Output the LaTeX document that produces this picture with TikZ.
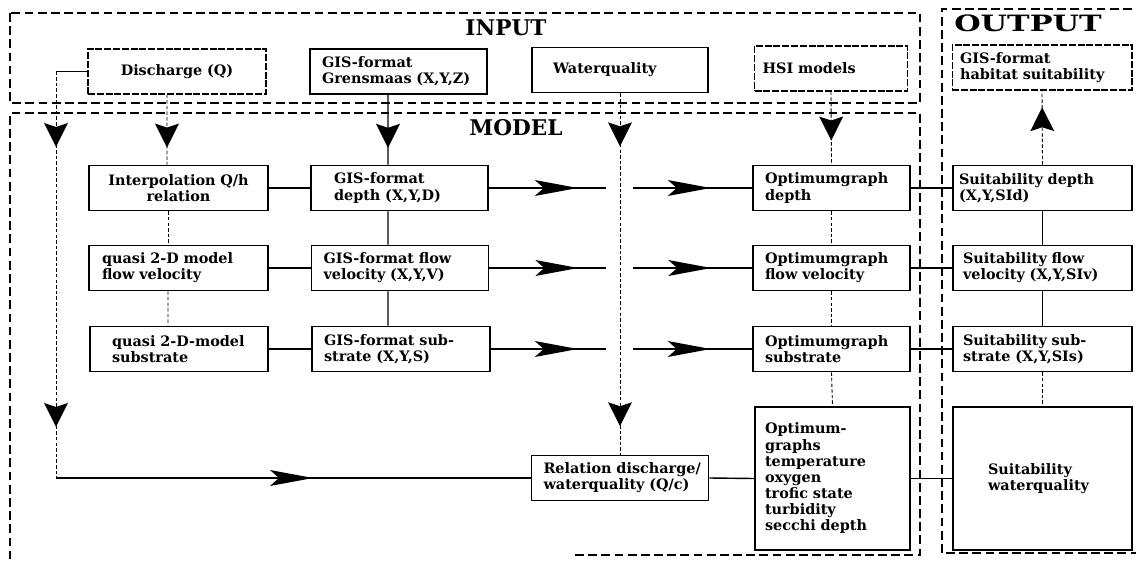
\documentclass[tikz,border=0pt]{standalone}
\usepackage{fontspec}
\setmainfont{DejaVu Serif}
\newfontfamily\titlefont{DejaVu Serif}
\newfontfamily\widetitlefont{DejaVu Serif}[FakeStretch=1.35]
\usetikzlibrary{decorations.markings}

% arrowhead outlines: tip at the origin, pointing along +x
\newcommand\longhead{\fill (0,0) -- (-0.86cm,0.16cm) -- (-0.68cm,0) -- (-0.86cm,-0.16cm) -- cycle;}
\newcommand\shorthead{\fill (0,0) -- (-0.48cm,0.24cm) -- (-0.40cm,0) -- (-0.48cm,-0.24cm) -- cycle;}

\tikzset{
  region/.style={draw, line width=1pt, dash pattern=on 5pt off 2.5pt},
  title/.style={font=\titlefont\fontsize{12.3}{13}\selectfont\bfseries},
  widetitle/.style={font=\widetitlefont\fontsize{12.8}{14}\selectfont\bfseries},
  box/.style={draw, line width=0.9pt, rectangle, minimum height=0.9cm,
    inner ysep=1pt, align=left, font=\fontsize{8.2}{9.2}\selectfont\bfseries,
    execute at begin node={\hyphenpenalty=10000\exhyphenpenalty=10000}},
  lightbox/.style={box, line width=0.6pt, dash pattern=on 4pt off 1pt},
  geom/.style n args={3}{minimum width=#1, text width=#2, inner xsep=#3},
  link/.style={line width=0.8pt},
  faint/.style={line width=0.5pt, dash pattern=on 2pt off 1.2pt},
  hmark/.style={postaction={decorate, solid},
    decoration={markings, mark=at position #1 with {\longhead}}},
  hmarks/.style 2 args={postaction={decorate, solid},
    decoration={markings, mark=at position #1 with {\longhead},
                          mark=at position #2 with {\longhead}}},
  vmark/.style={postaction={decorate, solid},
    decoration={markings, mark=at position #1 with {\shorthead}}},
  vmarks/.style 2 args={postaction={decorate, solid},
    decoration={markings, mark=at position #1 with {\shorthead},
                          mark=at position #2 with {\shorthead}}},
}

\begin{document}
\begin{tikzpicture}[x=0.02cm, y=-0.02cm]
\useasboundingbox (0,0) rectangle (1136,561);

% regions
\draw[region] (10,13) rectangle (920,103);
\draw[region] (575,555) -- (920,555) -- (920,113) -- (10,113) -- (10,570);
\draw[region] (1145,9) -- (942,9) -- (942,553) -- (1145,553);

\node[title] (tin) at (506,28) {INPUT};
\node[title] (tmod) at (516,128) {MODEL};
\node[widetitle] (tout) at (1028,23) {OUTPUT};

% input row
\node[lightbox, geom={3.56cm}{3.36cm}{0.1cm}, align=center] (dis) at (177,71.5) {Discharge~(Q)};
\node[box, geom={3.54cm}{3.06cm}{0.24cm}] (gren) at (398.5,71.5) {GIS-format\\Grensmaas~(X,Y,Z)};
\node[box, geom={3.52cm}{2.68cm}{0.42cm}] (wq) at (620,70) {Waterquality};
\node[lightbox, geom={3.06cm}{2.74cm}{0.16cm}] (hsi) at (831,68.5) {HSI~models};
\node[lightbox, geom={3.60cm}{3.28cm}{0.16cm}] (hab) at (1042,67.5) {GIS-format\\habitat~suitability};

% model rows
\node[box, geom={3.58cm}{3.38cm}{0.1cm}, align=center] (interp) at (178.5,188) {Interpolation~Q/h\\relation};
\node[box, geom={3.54cm}{2.62cm}{0.46cm}] (gdep) at (399.5,188) {GIS-format\\depth~(X,Y,D)};
\node[box, geom={3.14cm}{2.66cm}{0.24cm}] (odep) at (831.5,188) {Optimumgraph\\depth};
\node[box, geom={3.58cm}{3.34cm}{0.12cm}] (sdep) at (1042.5,188) {Suitability~depth\\(X,Y,SId)};

\node[box, geom={3.58cm}{3.06cm}{0.26cm}] (qflow) at (178.5,268) {quasi~2-D~model\\flow~velocity};
\node[box, geom={3.54cm}{3.06cm}{0.24cm}] (gflow) at (400,268) {GIS-format~flow\\velocity~(X,Y,V)};
\node[box, geom={3.14cm}{2.66cm}{0.24cm}] (oflow) at (831.5,268) {Optimumgraph\\flow~velocity};
\node[box, geom={3.58cm}{3.18cm}{0.2cm}] (sflow) at (1042.5,268) {Suitability~flow\\velocity~(X,Y,SIv)};

\node[box, geom={3.56cm}{2.68cm}{0.44cm}] (qsub) at (179,349) {quasi~2-D-model\\substrate};
\node[box, geom={3.56cm}{3.08cm}{0.24cm}] (gsub) at (401,349) {GIS-format~sub-\\strate~(X,Y,S)};
\node[box, geom={3.14cm}{2.66cm}{0.24cm}] (osub) at (831.5,349) {Optimumgraph\\substrate};
\node[box, geom={3.58cm}{3.18cm}{0.2cm}] (ssub) at (1042.5,349) {Suitability~sub-\\strate~(X,Y,SIs)};

\node[box, geom={3.54cm}{3.06cm}{0.24cm}] (rel) at (620,478) {Relation~discharge/\\waterquality~(Q/c)};
\node[box, geom={3.10cm}{2.70cm}{0.2cm}, minimum height=2.86cm] (ograph) at (832.5,478.5)
  {Optimum-\\graphs\\temperature\\oxygen\\trofic~state\\turbidity\\secchi~depth};
\node[box, geom={3.58cm}{2.18cm}{0.7cm}, minimum height=2.86cm] (swq) at (1042.5,478.5)
  {Suitability\\waterquality};

% discharge feed along the left side
\coordinate (c1) at (56,71.5);
\coordinate (c2) at (56,478);
\draw[link] (dis.west) -- (c1);
\draw[faint, vmarks={1.51cm}{7.11cm}] (c1) -- (c2);
\draw[link, hmark=5.14cm] (c2) -- (rel.west);

% input to model
\draw[faint, vmark=1.06cm] ([xshift=-0.2cm]dis.south) -- ([xshift=-0.23cm]interp.north);
\draw[link, vmark=1.06cm] ([xshift=-0.21cm]gren.south) -- ([xshift=-0.23cm]gdep.north);
\draw[faint, vmark=0.98cm] (hsi.south) -- (odep.north);

% left column links
\draw[faint] ([xshift=-0.21cm]interp.south) -- ([xshift=-0.21cm]qflow.north);
\draw[faint] ([xshift=-0.21cm]qflow.south) -- ([xshift=-0.22cm]qsub.north);
\draw[link] (interp.east) -- (gdep.west);
\draw[link] (qflow.east) -- (gflow.west);
\draw[link] (qsub.east) -- (gsub.west);
\draw[link] ([xshift=-0.23cm]gdep.south) -- ([xshift=-0.24cm]gflow.north);
\draw[link] ([xshift=-0.24cm]gflow.south) -- ([xshift=-0.26cm]gsub.north);

% GIS maps to optimum graphs
\draw[link, hmarks={1.78cm}{4.44cm}] (gdep.east) -- (odep.west);
\draw[link, hmarks={1.78cm}{4.44cm}] (gflow.east) -- (oflow.west);
\draw[link, hmarks={1.74cm}{4.40cm}] (gsub.east) -- (osub.west);
\foreach \y in {188,268,349}
  \fill[white] (606,\y-4) rectangle (633,\y+4);

% water quality branch
\draw[faint, vmarks={1.06cm}{6.66cm}] (wq.south) -- (rel.north);
\draw[link] (rel.east) -- (ograph.west);

% optimum graphs column
\draw[faint] (odep.south) -- (oflow.north);
\draw[faint] (oflow.south) -- (osub.north);
\draw[faint] (osub.south) -- (ograph.north);
\draw[link] (odep.east) -- (sdep.west);
\draw[link] (oflow.east) -- (sflow.west);
\draw[link] (osub.east) -- (ssub.west);
\draw[link] (ograph.east) -- (swq.west);

% suitability column
\draw[link] (sdep.south) -- (sflow.north);
\draw[link] (sflow.south) -- (ssub.north);
\draw[faint] (ssub.south) -- (swq.north);
\draw[faint, vmark=1.15cm] (sdep.north) -- (hab.south);
\end{tikzpicture}
\end{document}
